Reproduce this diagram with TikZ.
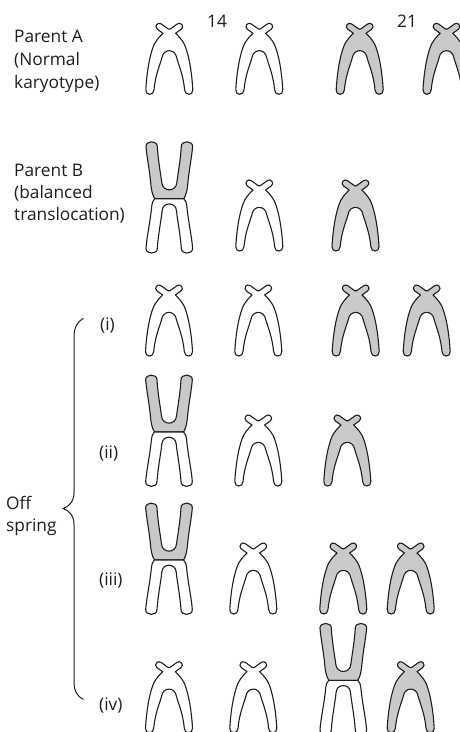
\documentclass[tikz,border=0pt]{standalone}
\usepackage{fontspec}
\setmainfont{Open Sans}
\definecolor{ink}{RGB}{30,30,30}
\definecolor{chromgrey}{RGB}{200,201,203}
\tikzset{
  outline/.style={draw=ink, line width=1.1pt, line join=round},
  lbl/.style={anchor=base west, inner sep=0pt, text=ink,
              font=\fontsize{17.3}{20}\selectfont},
  bracket/.style={draw=ink, line width=1pt},
  % acrocentric chromosome: short crossed p-arms on top of an arch
  pics/acro/.style={code={
    \path[outline, fill=#1]
      (-23.5,66.5) .. controls (-22.3,45) and (-18.5,28) .. (-14.8,20.5)
      .. controls (-12.3,16) and (-9,12.5) .. (-6.3,10.0)
      -- (-11.9,6.0)
      .. controls (-15.5,3.4) and (-11.6,-1.9) .. (-8.1,0.6)
      -- (-1.0,5.7) .. controls (-0.4,6.2) and (0.4,6.2) .. (1.0,5.7)
      -- (8.1,0.6)
      .. controls (11.6,-1.9) and (15.5,3.4) .. (11.9,6.0)
      -- (6.3,10.0)
      .. controls (9,12.5) and (12.3,16) .. (14.8,20.5)
      .. controls (18.5,28) and (22.3,45) .. (23.5,66.5)
      .. controls (24,72.5) and (15.3,72.5) .. (15.3,66.5)
      .. controls (14,52) and (9.5,42) .. (7.4,34.5)
      .. controls (6,25) and (-6,25) .. (-7.4,34.5)
      .. controls (-9.5,42) and (-14,52) .. (-15.3,66.5)
      .. controls (-15.3,72.5) and (-24,72.5) .. (-23.5,66.5)
      -- cycle;
  }},
  % translocation chromosome: grey U fused onto a white arch
  pics/fused/.style={code={
    \path[outline, fill=chromgrey]
      (-14.5,57) .. controls (-17,53) and (-18,48) .. (-18.5,42)
      .. controls (-19.5,30) and (-22.5,15) .. (-23.3,5)
      .. controls (-23.8,-1.5) and (-11.5,-1.5) .. (-12,5)
      .. controls (-11,20) and (-8.5,33) .. (-7.5,41)
      .. controls (-6.8,50.5) and (6.8,50.5) .. (7.5,41)
      .. controls (8.5,33) and (11,20) .. (12,5)
      .. controls (11.5,-1.5) and (23.8,-1.5) .. (23.3,5)
      .. controls (22.5,15) and (19.5,30) .. (18.5,42)
      .. controls (18,48) and (17,53) .. (14.5,57)
      -- cycle;
    \path[outline, fill=white]
      (-14.5,57) -- (14.5,57)
      .. controls (16.5,59) and (17.3,61) .. (17.5,64)
      .. controls (19,80) and (22.5,95) .. (23.3,106.5)
      .. controls (23.8,113) and (11.5,113) .. (12,106.5)
      .. controls (11,92) and (8,78) .. (7.2,69)
      .. controls (6.6,60) and (-6.6,60) .. (-7.2,69)
      .. controls (-8,78) and (-11,92) .. (-12,106.5)
      .. controls (-11.5,113) and (-23.8,113) .. (-23.3,106.5)
      .. controls (-22.5,95) and (-19,80) .. (-17.5,64)
      .. controls (-17.3,61) and (-16.5,59) .. (-14.5,57)
      -- cycle;
  }}
}
\begin{document}
\begin{tikzpicture}[x=1pt,y=-1pt]
  \useasboundingbox (0,0) rectangle (460,732);
  \fill[white] (0,0) rectangle (460,732);
  \clip (0,0) rectangle (460,732);

  % labels
  \node[lbl] (pA1) at (14,42.7) {Parent A};
  \node[lbl] (pA2) at (14,65) {(Normal};
  \node[lbl] (pA3) at (14,88) {karyotype)};
  \node[lbl] (pB1) at (14,176.7) {Parent B};
  \node[lbl] (pB2) at (14,198.5) {(balanced};
  \node[lbl] (pB3) at (14,220.7) {translocation)};
  \node[lbl] (n14) at (207,27) {14};
  \node[lbl] (n21) at (397,27) {21};
  \node[lbl] (ki) at (100,330) {(i)};
  \node[lbl] (kii) at (99,458.2) {(ii)};
  \node[lbl] (kiii) at (99,585) {(iii)};
  \node[lbl] (kiv) at (99,710.5) {(iv)};
  \node[lbl] (off1) at (6,509.5) {Off};
  \node[lbl] (off2) at (6,531) {spring};

  % bracket grouping the offspring
  \path[bracket] (83.3,318.3) .. controls (77,322) and (74,328) .. (74,337)
    -- (74,493) .. controls (74,502) and (68,507) .. (63.3,508.5)
    .. controls (68,510) and (74,515) .. (74,524)
    -- (74,682) .. controls (74,691) and (77,696) .. (83.3,699.5);

  % parent A
  \pic (a1) at (169.3,23.3) {acro=white};
  \pic (a2) at (259.3,23.3) {acro=white};
  \pic (a3) at (359.7,23.3) {acro=chromgrey};
  \pic (a4) at (446.5,23.3) {acro=chromgrey};
  % parent B
  \pic (b1) at (169.3,141.7) {fused};
  \pic (b2) at (259.3,180) {acro=white};
  \pic (b3) at (355.5,180) {acro=chromgrey};
  % offspring (i)
  \pic (c1) at (169,285) {acro=white};
  \pic (c2) at (258.3,285) {acro=white};
  \pic (c3) at (355.7,285) {acro=chromgrey};
  \pic (c4) at (426.7,285) {acro=chromgrey};
  % offspring (ii)
  \pic (d1) at (169,375) {fused};
  \pic (d2) at (258.3,415) {acro=white};
  \pic (d3) at (347.3,415) {acro=chromgrey};
  % offspring (iii)
  \pic (e1) at (169,503) {fused};
  \pic (e2) at (253.3,543) {acro=white};
  \pic (e3) at (343.3,543) {acro=chromgrey};
  \pic (e4) at (410.7,543) {acro=chromgrey};
  % offspring (iv)
  \pic (f1) at (169,661.7) {acro=white};
  \pic (f2) at (253.3,661.7) {acro=white};
  \pic (f3) at (343.3,623.3) {fused};
  \pic (f4) at (410.7,661.7) {acro=chromgrey};
\end{tikzpicture}
\end{document}
